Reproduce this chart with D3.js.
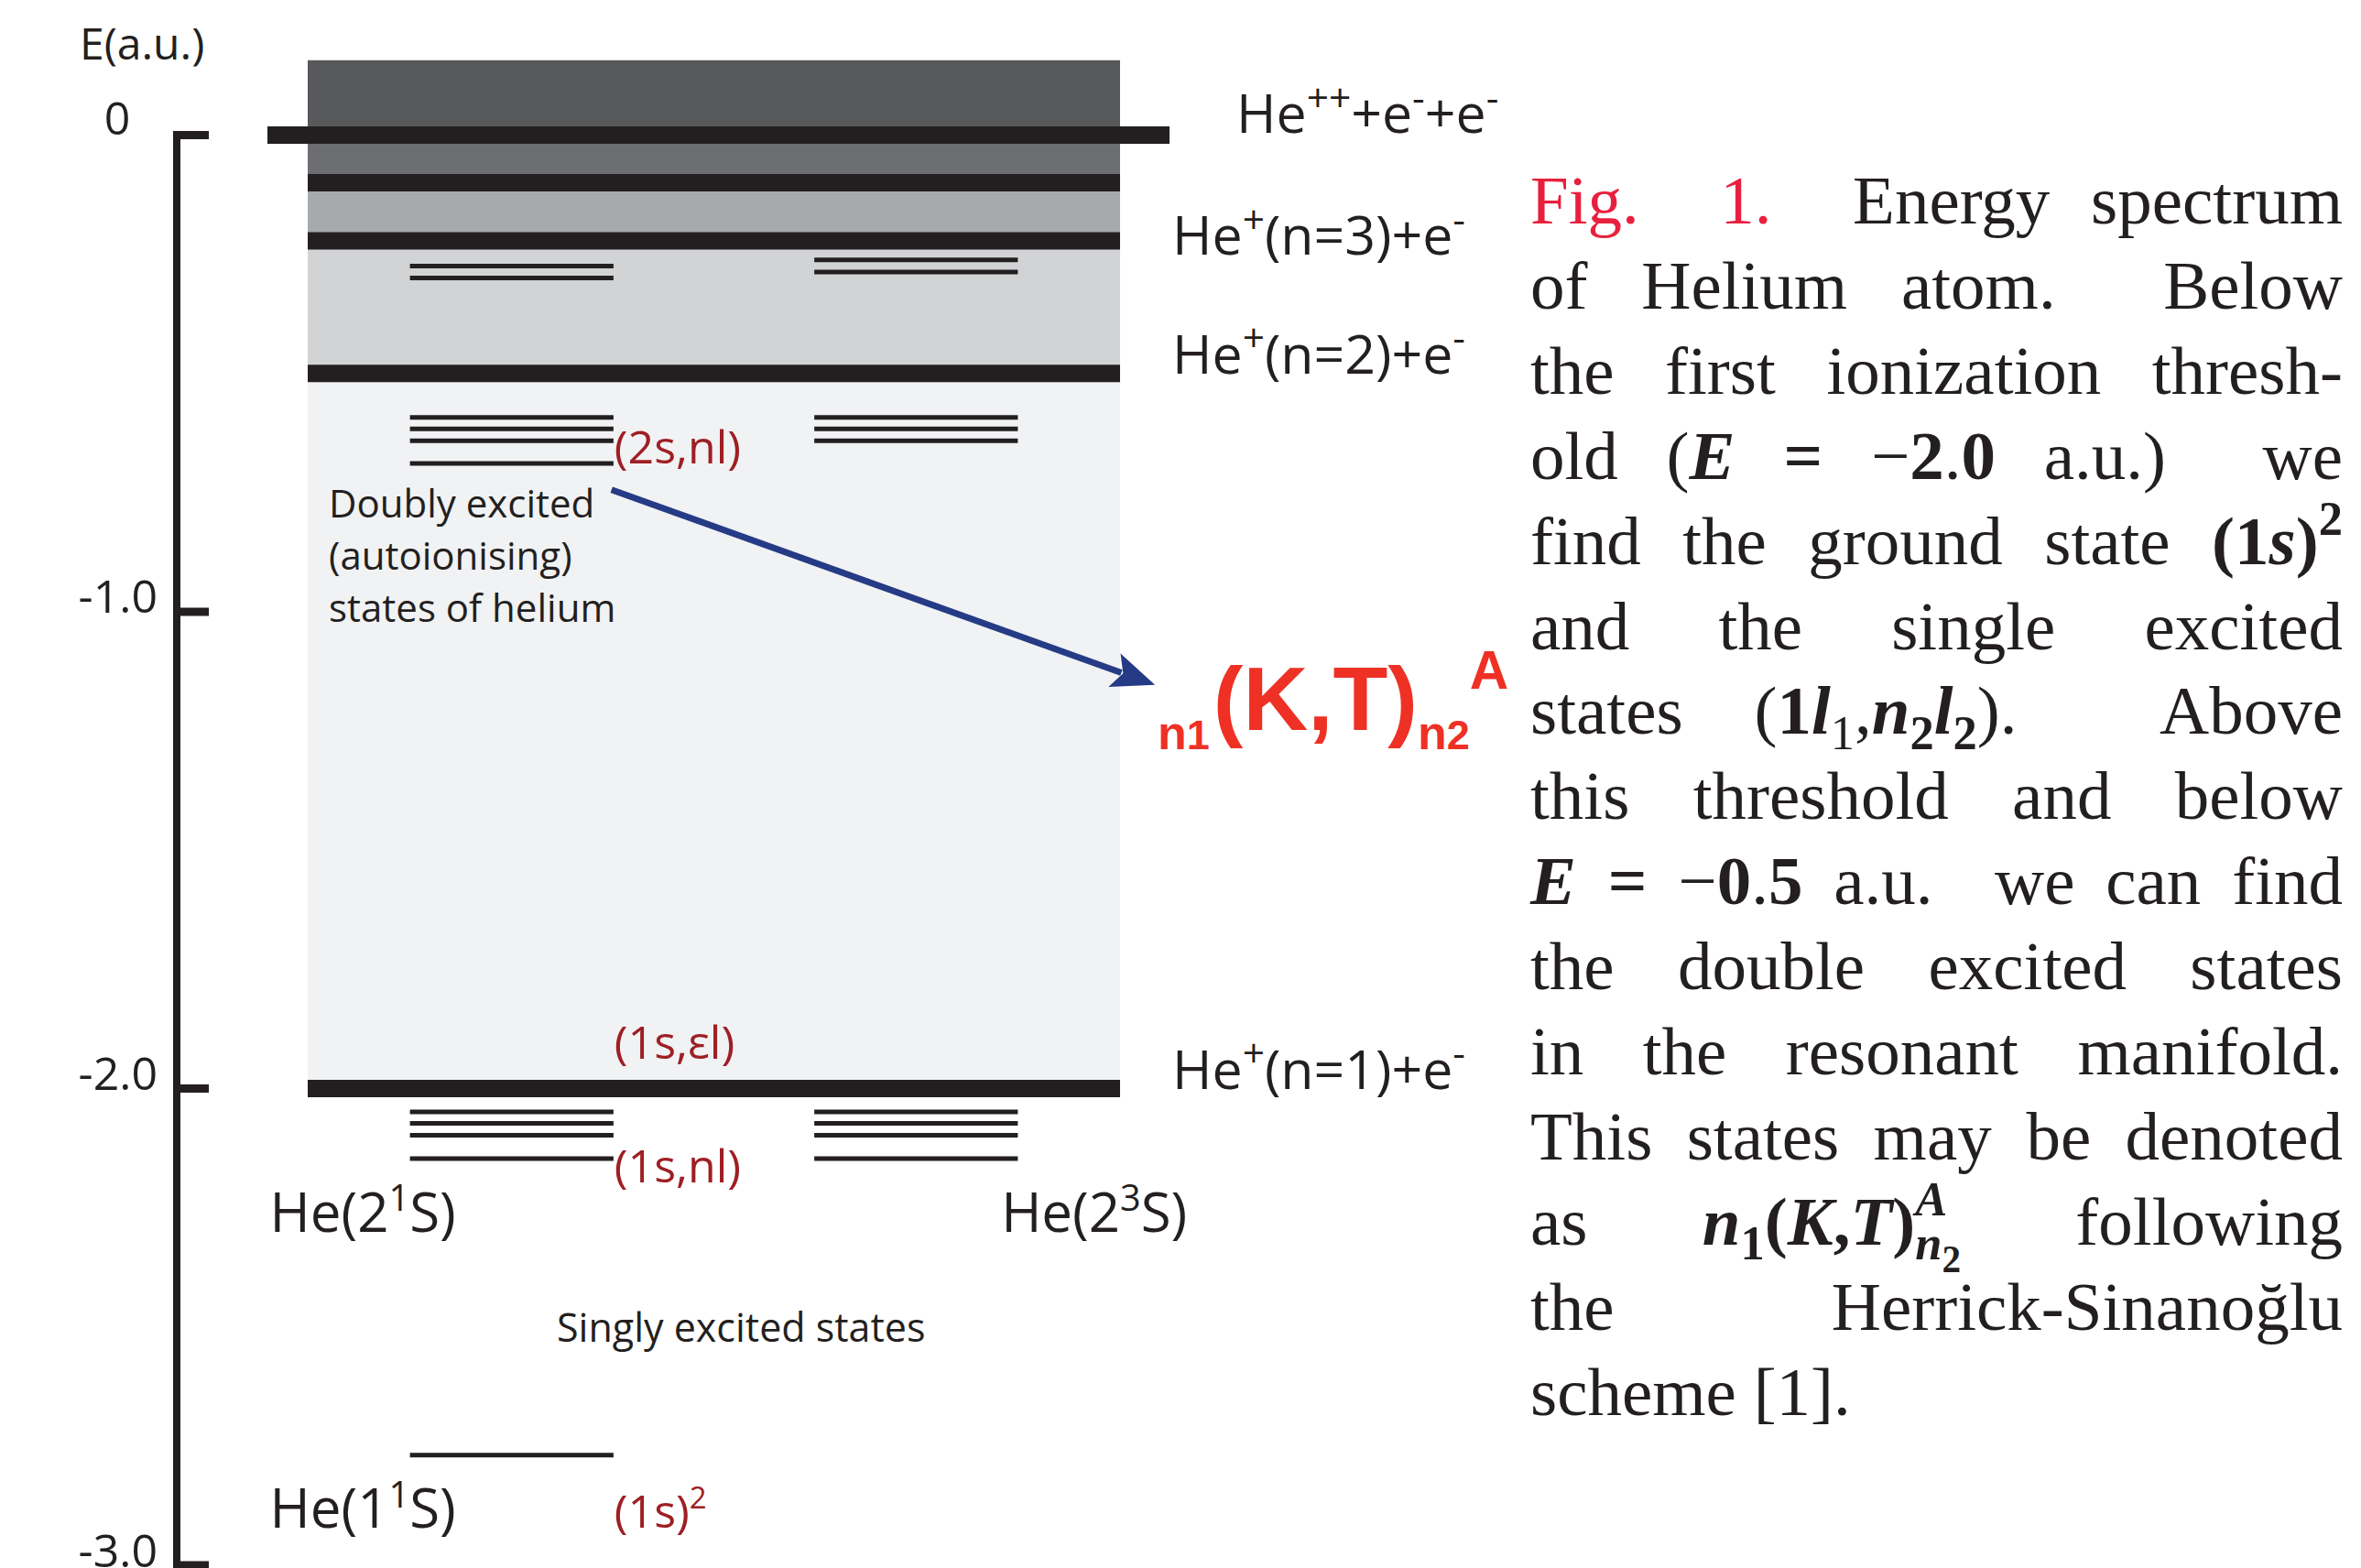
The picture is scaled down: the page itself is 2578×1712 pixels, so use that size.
<!DOCTYPE html>
<html>
<head>
<meta charset="utf-8">
<script src="https://cdn.jsdelivr.net/npm/d3@7"></script>
<style>
  html, body { margin: 0; padding: 0; background: #fff; }
  svg { display: block; }
</style>
</head>
<body>
<svg id="chart" width="2578" height="1712"></svg>
<script>
// ---------- Energy axis (atomic units) ----------
const axisTicks = [0, -1, -2, -3];
const axisTickLabels = ["0", "-1.0", "-2.0", "-3.0"];

// ---------- Continuum bands between ionization thresholds ----------
const bandTops    = [0.157, 0, -0.1, -0.222, -0.5];
const bandBottoms = [0, -0.1, -0.222, -0.5, -2.0];
const bandFills   = ["#58595b", "#6d6e71", "#a7a9ac", "#d1d3d4", "#f1f2f3"];

// ---------- Ionization thresholds ----------
const thresholdEnergies = [0, -0.1, -0.222, -0.5, -2.0];
const thresholdWide     = [true, false, false, false, false];
const thresholdLabels   = ["He|^~++|+e|^~-|+e|^~-", "He|^~+|(n=3)+e|^~-", "He|^~+|(n=2)+e|^~-", "He|^~+|(n=1)+e|^~-"];
const thresholdLabelE   = [0.004, -0.251, -0.5, -2.0];

// ---------- Bound / resonant levels per spin column ----------
const singletLevels = [-0.2747, -0.2996, -0.592, -0.616, -0.641, -0.689, -2.049, -2.073, -2.098, -2.147, -2.769];
const tripletLevels = [-0.262, -0.287, -0.592, -0.616, -0.641, -2.049, -2.073, -2.098, -2.147];

// ---------- Configuration labels ----------
const configLabels  = ["(2s,nl)", "(1s,εl)", "(1s,nl)", "(1s)|^~2"];
const configLabelE  = [-0.689, -1.938, -2.197, -2.922];
const stateLabels   = ["He(2|^~1|S)", "He(2|^~3|S)", "He(1|^~1|S)"];
const stateLabelCol = ["singlet", "triplet", "singlet"];
const stateLabelE   = [-2.3, -2.3, -2.922];

// ---------- Caption text (justified) ----------
const captionLines = [
  ["red~Fig.", "red~1.", "Energy", "spectrum"],
  ["of", "Helium", "atom.", "Below"],
  ["the", "first", "ionization", "thresh-"],
  ["old", "(|bi~E", "b~=", "−|b~2|.|b~0", "a.u.)", "we"],
  ["find", "the", "ground", "state", "b~(|b~1|bi~s|b~)|^b~2"],
  ["and", "the", "single", "excited"],
  ["states", "(|b~1|bi~l|_~1|,|bi~n|_b~2|bi~l|_b~2|).", "Above"],
  ["this", "threshold", "and", "below"],
  ["bi~E", "b~=", "−|b~0|.|b~5", "a.u.", "we", "can", "find"],
  ["the", "double", "excited", "states"],
  ["in", "the", "resonant", "manifold."],
  ["This", "states", "may", "be", "denoted"],
  ["as", "bi~n|_b~1|b~(|bi~K|b~,|bi~T|b~)|^bi~A|<_bi~n|__b~2", "following"],
  ["the", "Herrick-Sinanoğlu"],
  ["scheme", "[1]."]
];

// ---------- Scales ----------
const svg = d3.select("#chart");
const ink = "#231f20";
const sans = "'Open Sans', 'Noto Sans', sans-serif";
const serif = "'Liberation Serif', 'Times New Roman', Times, serif";

const yE = d3.scaleLinear().domain([0, -3]).range([147.5, 1709]);
const boxX = d3.scaleLinear().domain([0, 1]).range([336, 1223]);
const col = d3.scaleBand().domain(["singlet", "triplet"]).range(boxX.range())
  .paddingInner(0.4966).paddingOuter(0.2528);

// ---------- Mini markup: segments split by "|", "code~text" ----------
function parseWord(w) {
  return w.split("|").map(seg => {
    let code = "r", t = seg;
    const k = seg.indexOf("~");
    if (k >= 0) { code = seg.slice(0, k); t = seg.slice(k + 1); }
    const back = code.startsWith("<"); if (back) code = code.slice(1);
    let level = 0;
    while (code.startsWith("_")) { level++; code = code.slice(1); }
    const sup = code.startsWith("^"); if (sup) code = code.slice(1);
    return { t, back, level, sup, red: code === "red",
             bold: code.includes("b"), italic: code.includes("i") };
  });
}

// Render a marked-up string as one <text> with tspans
function richText(parent, markup, x, y, o) {
  const size = o.size;
  const node = parent.append("text")
    .attr("x", x).attr("y", y)
    .attr("font-family", o.family)
    .attr("font-size", size)
    .attr("font-weight", o.weight || "normal")
    .attr("fill", o.fill || ink)
    .attr("text-anchor", o.anchor || "start");
  const supP = o.sup || [0.66, -0.38];
  const sub1 = o.sub1 || [0.66, 0.2];
  const sub2 = o.sub2 || [0.5, 0.34];
  let prevLen = 0;
  parseWord(markup).forEach(s => {
    const p = s.sup ? supP : s.level === 1 ? sub1 : s.level === 2 ? sub2 : [1, 0];
    const ts = node.append("tspan")
      .attr("y", y + p[1] * size)
      .attr("font-size", p[0] * size);
    if (s.bold) ts.attr("font-weight", "bold");
    if (s.italic) ts.attr("font-style", "italic");
    if (s.red) ts.attr("fill", o.red || "#e8203e");
    if (s.back) ts.attr("dx", -prevLen);
    if (o.gap && s.level === 0 && !s.sup && prevLen) ts.attr("dx", o.gap);
    ts.text(s.t);
    prevLen = ts.node().getComputedTextLength();
  });
  return node;
}

// ---------- Continuum bands ----------
const diagram = svg.append("g");
diagram.selectAll("rect.band")
  .data(bandTops.map((t, i) => ({ t, b: bandBottoms[i], fill: bandFills[i] })))
  .join("rect")
  .attr("class", "band")
  .attr("x", boxX(0)).attr("width", boxX(1) - boxX(0))
  .attr("y", d => yE(d.t)).attr("height", d => yE(d.b) - yE(d.t))
  .attr("fill", d => d.fill);

// ---------- Threshold lines ----------
diagram.selectAll("line.threshold")
  .data(thresholdEnergies.map((e, i) => ({ e, wide: thresholdWide[i] })))
  .join("line")
  .attr("class", "threshold")
  .attr("x1", d => d.wide ? boxX(-0.0496) : boxX(0))
  .attr("x2", d => d.wide ? boxX(1.0609) : boxX(1))
  .attr("y1", d => yE(d.e)).attr("y2", d => yE(d.e))
  .attr("stroke", ink).attr("stroke-width", 19);

// ---------- Level lines ----------
const levels = singletLevels.map(e => ({ e, c: "singlet" }))
  .concat(tripletLevels.map(e => ({ e, c: "triplet" })));
diagram.selectAll("line.level")
  .data(levels)
  .join("line")
  .attr("class", "level")
  .attr("x1", d => col(d.c)).attr("x2", d => col(d.c) + col.bandwidth())
  .attr("y1", d => yE(d.e)).attr("y2", d => yE(d.e))
  .attr("stroke", ink).attr("stroke-width", 5);

// ---------- Energy axis ----------
const axis = svg.append("g");
const axisX = 193;
axis.append("line")
  .attr("x1", axisX).attr("x2", axisX)
  .attr("y1", yE(0) - 4.5).attr("y2", 1712)
  .attr("stroke", ink).attr("stroke-width", 8);
axis.selectAll("line.tick")
  .data(axisTicks)
  .join("line")
  .attr("class", "tick")
  .attr("x1", axisX - 4).attr("x2", axisX + 35)
  .attr("y1", d => yE(d)).attr("y2", d => yE(d))
  .attr("stroke", ink).attr("stroke-width", 9);
axis.selectAll("text.ticklabel")
  .data(axisTicks)
  .join("text")
  .attr("class", "ticklabel")
  .attr("x", d => d === 0 ? 128 : 172)
  .attr("y", d => d === -3 ? 1711 : yE(d) + (d === 0 ? -1 : 1))
  .attr("text-anchor", d => d === 0 ? "middle" : "end")
  .attr("font-family", sans).attr("font-size", 50).attr("fill", ink)
  .text((d, i) => axisTickLabels[i]);
axis.append("text")
  .attr("x", 87).attr("y", 65)
  .attr("font-family", sans).attr("font-size", 48).attr("fill", ink)
  .text("E(a.u.)");

// ---------- Threshold labels ----------
thresholdLabels.forEach((m, i) => {
  richText(svg, m, i === 0 ? 1350 : 1280, yE(thresholdLabelE[i]),
    { size: i === 0 ? 59 : 59, family: sans, sup: [0.72, -0.4] });
});

// ---------- Configuration labels (dark red) ----------
configLabels.forEach((m, i) => {
  richText(svg, m, col("singlet") + col.bandwidth() + 1, yE(configLabelE[i]),
    { size: 50, family: sans, fill: "#9e1f24", sup: [0.66, -0.42] });
});

// ---------- State labels ----------
stateLabels.forEach((m, i) => {
  const x = stateLabelCol[i] === "singlet" ? col("singlet") - 153 : col("triplet") + 204;
  richText(svg, m, x, yE(stateLabelE[i]), { size: 60, family: sans, sup: [0.66, -0.38] });
});

// ---------- Region annotations ----------
["Doubly excited", "(autoionising)", "states of helium"].forEach((t, i) => {
  svg.append("text")
    .attr("x", 359).attr("y", 565 + i * 57)
    .attr("font-family", sans).attr("font-size", 42).attr("fill", ink)
    .text(t);
});
svg.append("text")
  .attr("x", 608).attr("y", yE(-2.532))
  .attr("font-family", sans).attr("font-size", 43).attr("fill", ink)
  .text("Singly excited states");

// ---------- Arrow to the Herrick–Sinanoğlu classification ----------
const arrowFrom = { f: 0.374, e: -0.744 };
const arrowTo   = { f: 1.043, e: -1.153 };
const ax0 = boxX(arrowFrom.f), ay0 = yE(arrowFrom.e);
const ax1 = boxX(arrowTo.f),   ay1 = yE(arrowTo.e);
const len = Math.hypot(ax1 - ax0, ay1 - ay0);
const ux = (ax1 - ax0) / len, uy = (ay1 - ay0) / len;
const nx = -uy, ny = ux;
const headL = 47, headW = 19.5, notch = 37;
const pt = (a, b) => [ax1 + ux * a + nx * b, ay1 + uy * a + ny * b];
const arrowBlue = "#253b85";
svg.append("line")
  .attr("x1", ax0).attr("y1", ay0)
  .attr("x2", pt(-notch - 2, 0)[0]).attr("y2", pt(-notch - 2, 0)[1])
  .attr("stroke", arrowBlue).attr("stroke-width", 7);
svg.append("path")
  .attr("d", d3.line()([pt(0, 0), pt(-headL, -headW), pt(-notch, 0), pt(-headL, headW)]) + "Z")
  .attr("fill", arrowBlue);

// ---------- Classification label n1(K,T)n2^A ----------
richText(svg, "_~n|__~1|(K,T)|_~n|__~2|^~A", 1264, yE(-1.247), {
  size: 98, family: "'Liberation Sans', Arial, Helvetica, sans-serif",
  weight: "bold", fill: "#ee3124", gap: 4,
  sub1: [0.53, 0.215], sub2: [0.46, 0.215], sup: [0.6, -0.455]
});

// ---------- Caption, fully justified ----------
const capSize = 75, capLeft = 1671, capRight = 2558, capTop = 244, capLead = 92.9;
const cap = svg.append("g");
captionLines.forEach((line, li) => {
  const y = capTop + li * capLead;
  const nodes = line.map(w => richText(cap, w, 0, y, {
    size: capSize, family: serif, fill: ink,
    sup: [0.7, -0.42], sub1: [0.7, 0.22], sub2: [0.55, 0.4]
  }));
  const widths = nodes.map(n => n.node().getBBox().width);
  const last = li === captionLines.length - 1;
  const weights = line.slice(0, -1).map(w => /\.\)?$/.test(w) ? 2 : 1);
  const totalW = d3.sum(widths);
  const unit = last ? capSize * 0.25
    : (capRight - capLeft - totalW) / Math.max(1, d3.sum(weights));
  let x = capLeft;
  nodes.forEach((n, i) => {
    n.attr("x", x);
    n.selectAll("tspan").each(function (d, j) { if (j === 0) d3.select(this).attr("x", x); });
    x += widths[i] + (i < weights.length ? (last ? unit : unit * weights[i]) : 0);
  });
});
</script>
</body>
</html>
